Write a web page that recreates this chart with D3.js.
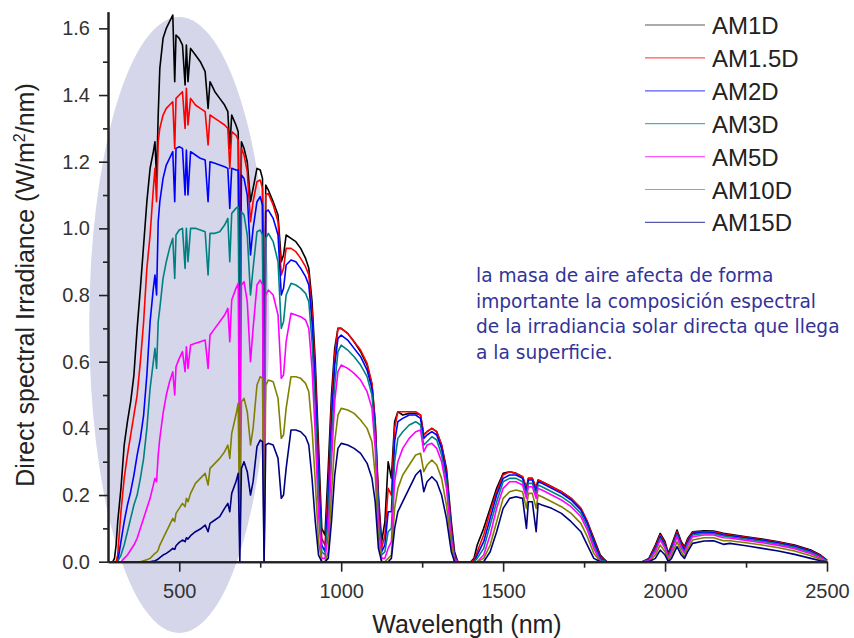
<!DOCTYPE html>
<html><head><meta charset="utf-8">
<script src="https://cdn.jsdelivr.net/npm/d3@7"></script>
<style>body{margin:0;background:#fff}svg{display:block}</style>
</head><body><svg id="c" width="854" height="638"></svg>
<script>
const wavelengths = [295,300,305,310,320,330,340,350,360,370,
 380,390,400,410,420,425,430,435,440,450,
 460,470,480,486,490,500,510,518,522,527,
 535,550,565,580,589,595,610,625,640,650,
 656,662,675,682,687,692,700,710,720,728,
 740,750,757,762,767,775,790,805,815,822,
 830,845,860,875,890,900,910,920,930,940,
 950,960,970,980,990,1000,1020,1040,1060,1080,
 1095,1105,1115,1125,1135,1145,1155,1165,1175,1190,
 1210,1230,1245,1255,1265,1280,1295,1310,1325,1340,
 1350,1360,1400,1410,1420,1440,1460,1480,1500,1520,
 1540,1560,1572,1578,1590,1602,1608,1620,1650,1680,
 1710,1740,1760,1780,1800,1820,1930,1950,1970,1985,
 2000,2010,2020,2037,2050,2060,2070,2085,2120,2150,
 2180,2200,2250,2300,2350,2400,2450,2480,2500];

const am1D = [0,0.01,0.05,0.12,0.22,0.35,0.42,0.48,0.56,0.70,
 0.82,0.95,1.08,1.18,1.23,1.26,1.15,1.34,1.48,1.57,
 1.60,1.62,1.64,1.44,1.58,1.57,1.55,1.43,1.55,1.44,
 1.54,1.52,1.50,1.47,1.36,1.44,1.41,1.39,1.37,1.35,
 1.24,1.34,1.31,1.29,0.85,1.26,1.24,1.20,1.08,1.12,
 1.18,1.175,1.15,0.30,1.13,1.115,1.08,1.04,0.90,0.92,
 0.98,0.97,0.96,0.94,0.91,0.88,0.78,0.60,0.35,0.10,
 0.08,0.28,0.50,0.64,0.70,0.70,0.685,0.66,0.63,0.59,
 0.53,0.42,0.20,0.06,0.12,0.30,0.25,0.42,0.45,0.44,
 0.445,0.445,0.44,0.38,0.39,0.40,0.39,0.35,0.28,0.12,
 0.03,0,0,0.01,0.05,0.10,0.16,0.22,0.265,0.27,
 0.265,0.255,0.22,0.25,0.25,0.22,0.245,0.24,0.225,0.21,
 0.19,0.16,0.12,0.07,0.02,0,0,0.01,0.05,0.085,
 0.06,0.025,0.05,0.095,0.06,0.045,0.07,0.09,0.093,0.092,
 0.085,0.082,0.075,0.068,0.06,0.05,0.035,0.02,0.005];

const am1p5D = [0,0,0,0.02,0.15,0.25,0.32,0.38,0.44,0.50,
 0.60,0.72,0.88,0.98,1.12,1.18,1.08,1.26,1.30,1.34,
 1.36,1.37,1.38,1.24,1.39,1.40,1.41,1.30,1.42,1.31,
 1.39,1.37,1.36,1.35,1.25,1.34,1.33,1.32,1.31,1.30,
 1.18,1.29,1.28,1.265,0.70,1.24,1.22,1.17,1.02,1.08,
 1.14,1.145,1.12,0.15,1.10,1.105,1.07,1.02,0.86,0.88,
 0.94,0.94,0.93,0.91,0.885,0.86,0.75,0.56,0.30,0.07,
 0.05,0.22,0.46,0.62,0.70,0.70,0.685,0.66,0.635,0.595,
 0.535,0.42,0.18,0.04,0.08,0.22,0.20,0.40,0.45,0.45,
 0.45,0.45,0.44,0.38,0.39,0.40,0.39,0.35,0.27,0.10,
 0.02,0,0,0.005,0.03,0.08,0.15,0.21,0.26,0.27,
 0.265,0.255,0.22,0.25,0.25,0.22,0.245,0.24,0.225,0.21,
 0.19,0.16,0.12,0.065,0.015,0,0,0.008,0.045,0.08,
 0.055,0.02,0.045,0.09,0.055,0.04,0.065,0.088,0.09,0.09,
 0.083,0.08,0.073,0.066,0.058,0.048,0.033,0.018,0.004];

const am2D = [0,0,0,0,0.06,0.12,0.17,0.21,0.26,0.32,
 0.37,0.44,0.56,0.72,0.82,0.86,0.80,1.02,1.08,1.15,
 1.19,1.21,1.23,1.08,1.24,1.245,1.24,1.10,1.235,1.10,
 1.23,1.22,1.21,1.205,1.08,1.20,1.195,1.19,1.185,1.18,
 1.06,1.18,1.175,1.175,0.55,1.16,1.15,1.10,0.92,1.00,
 1.08,1.095,1.07,0.08,1.05,1.055,1.03,0.98,0.80,0.82,
 0.89,0.905,0.90,0.88,0.855,0.83,0.72,0.52,0.26,0.05,
 0.03,0.18,0.42,0.59,0.67,0.68,0.665,0.64,0.615,0.575,
 0.52,0.40,0.16,0.03,0.05,0.15,0.15,0.36,0.42,0.43,
 0.44,0.44,0.43,0.37,0.38,0.39,0.38,0.34,0.26,0.09,
 0.015,0,0,0,0.02,0.06,0.13,0.20,0.25,0.26,
 0.26,0.25,0.21,0.245,0.245,0.21,0.24,0.235,0.22,0.205,
 0.185,0.155,0.115,0.06,0.01,0,0,0.006,0.04,0.075,
 0.05,0.018,0.04,0.085,0.05,0.035,0.06,0.085,0.088,0.087,
 0.08,0.078,0.071,0.064,0.056,0.046,0.031,0.016,0.003];

const am3D = [0,0,0,0,0.02,0.05,0.09,0.13,0.17,0.20,
 0.25,0.31,0.40,0.52,0.60,0.64,0.58,0.72,0.76,0.85,
 0.90,0.94,0.97,0.85,0.98,0.995,1.00,0.88,1.00,0.90,
 1.00,1.00,0.995,0.99,0.86,0.985,0.985,0.99,1.01,1.03,
 0.90,1.045,1.06,1.065,0.38,1.05,1.04,0.98,0.80,0.88,
 0.99,0.995,0.98,0.03,0.97,0.985,0.96,0.90,0.70,0.72,
 0.80,0.835,0.83,0.82,0.805,0.78,0.66,0.46,0.20,0.03,
 0.02,0.13,0.36,0.53,0.63,0.65,0.635,0.615,0.59,0.555,
 0.50,0.38,0.14,0.02,0.03,0.09,0.10,0.30,0.37,0.39,
 0.41,0.42,0.41,0.35,0.36,0.375,0.365,0.32,0.24,0.08,
 0.01,0,0,0,0.01,0.04,0.11,0.18,0.24,0.25,
 0.25,0.24,0.20,0.235,0.235,0.20,0.23,0.225,0.21,0.195,
 0.175,0.145,0.105,0.05,0.005,0,0,0.004,0.035,0.07,
 0.045,0.015,0.035,0.08,0.045,0.03,0.055,0.08,0.085,0.084,
 0.077,0.075,0.068,0.061,0.053,0.043,0.028,0.014,0.002];

const am5D = [0,0,0,0,0,0.01,0.02,0.035,0.05,0.07,
 0.10,0.13,0.16,0.19,0.23,0.25,0.24,0.32,0.37,0.445,
 0.50,0.54,0.57,0.50,0.585,0.61,0.63,0.57,0.645,0.58,
 0.65,0.655,0.66,0.665,0.58,0.68,0.70,0.72,0.74,0.76,
 0.66,0.785,0.82,0.835,0.20,0.83,0.84,0.78,0.60,0.70,
 0.83,0.845,0.83,0,0.80,0.815,0.80,0.74,0.55,0.56,
 0.66,0.745,0.74,0.735,0.725,0.70,0.58,0.38,0.14,0.01,
 0.01,0.08,0.30,0.48,0.57,0.59,0.58,0.565,0.545,0.51,
 0.46,0.34,0.11,0.01,0.01,0.04,0.06,0.24,0.30,0.34,
 0.37,0.39,0.395,0.33,0.35,0.355,0.34,0.30,0.22,0.07,
 0.005,0,0,0,0,0.02,0.08,0.16,0.22,0.24,
 0.24,0.23,0.19,0.225,0.225,0.19,0.22,0.215,0.20,0.185,
 0.165,0.135,0.095,0.04,0,0,0,0.002,0.03,0.065,
 0.04,0.01,0.03,0.075,0.04,0.025,0.05,0.075,0.08,0.08,
 0.072,0.071,0.064,0.057,0.049,0.039,0.024,0.011,0.001];

const am10D = [0,0,0,0,0,0,0,0,0,0,
 0,0.003,0.006,0.01,0.02,0.025,0.028,0.035,0.05,0.07,
 0.09,0.11,0.13,0.12,0.145,0.16,0.175,0.165,0.19,0.18,
 0.205,0.235,0.25,0.265,0.23,0.28,0.295,0.31,0.33,0.35,
 0.31,0.385,0.44,0.475,0.05,0.48,0.49,0.45,0.35,0.40,
 0.53,0.555,0.55,0,0.53,0.545,0.54,0.49,0.37,0.38,
 0.46,0.555,0.555,0.55,0.535,0.51,0.40,0.24,0.06,0,
 0,0.03,0.20,0.36,0.44,0.46,0.455,0.445,0.425,0.40,
 0.36,0.26,0.07,0,0,0.01,0.02,0.16,0.22,0.26,
 0.29,0.32,0.325,0.27,0.29,0.305,0.29,0.25,0.17,0.05,
 0,0,0,0,0,0.01,0.05,0.12,0.19,0.21,
 0.215,0.21,0.16,0.205,0.205,0.16,0.20,0.195,0.18,0.165,
 0.145,0.115,0.075,0.025,0,0,0,0,0.02,0.05,
 0.03,0.005,0.02,0.06,0.03,0.015,0.04,0.065,0.072,0.072,
 0.063,0.063,0.057,0.05,0.042,0.032,0.018,0.007,0];

const am15D = [0,0,0,0,0,0,0,0,0,0,
 0,0,0,0,0.002,0.003,0.005,0.008,0.012,0.02,
 0.025,0.032,0.04,0.037,0.048,0.058,0.065,0.06,0.072,0.068,
 0.078,0.09,0.098,0.11,0.09,0.115,0.125,0.135,0.16,0.175,
 0.15,0.205,0.24,0.265,0,0.28,0.30,0.27,0.20,0.24,
 0.345,0.365,0.36,0,0.35,0.355,0.35,0.31,0.19,0.20,
 0.28,0.395,0.395,0.39,0.375,0.35,0.25,0.12,0.02,0,
 0,0.01,0.12,0.26,0.34,0.355,0.35,0.34,0.325,0.295,
 0.25,0.18,0.04,0,0,0,0.01,0.10,0.15,0.18,
 0.22,0.26,0.275,0.21,0.24,0.255,0.24,0.20,0.13,0.03,
 0,0,0,0,0,0,0.03,0.09,0.16,0.19,
 0.195,0.19,0.10,0.18,0.18,0.09,0.175,0.17,0.16,0.145,
 0.12,0.09,0.05,0.01,0,0,0,0,0.01,0.035,
 0.02,0,0.01,0.045,0.02,0.01,0.03,0.055,0.062,0.063,
 0.052,0.055,0.048,0.04,0.032,0.022,0.01,0.003,0];

const seriesNames = ["AM1D","AM1.5D","AM2D","AM3D","AM5D","AM10D","AM15D"];
const seriesValues = [am1D, am1p5D, am2D, am3D, am5D, am10D, am15D];
const seriesColors = ["#000000","#ff0000","#0000ff","#008080","#ff00ff","#808000","#000080"];

const xTicks = [500,1000,1500,2000,2500];
const xMinorTicks = [750,1250,1750,2250];
const yTicks = [0,0.2,0.4,0.6,0.8,1.0,1.2,1.4,1.6];
const yMinorTicks = [0.1,0.3,0.5,0.7,0.9,1.1,1.3,1.5];
const xTitle = "Wavelength (nm)";
const noteLines = ["la masa de aire afecta de forma",
  "importante la composición espectral",
  "de la irradiancia solar directa que llega",
  "a la superficie."];
// highlighted region (data units): centre wavelength, centre irradiance, half-width nm, half-height
const highlight = {wl: 500, v: 0.71, rwl: 278, rv: 0.924};

seriesValues.forEach((s,i)=>{ if (s.length !== wavelengths.length) throw new Error(seriesNames[i]+" length "+s.length); });

const svg = d3.select("#c");
const x = d3.scaleLinear().domain([280, 2500]).range([108, 827]);
const y = d3.scaleLinear().domain([0, 1.65]).range([561.7, 11.7]);
const font = "'Liberation Sans', Arial, sans-serif";

svg.append("rect").attr("width",854).attr("height",638).attr("fill","#fff");

// highlight ellipse
svg.append("ellipse")
  .attr("cx", x(highlight.wl)).attr("cy", y(highlight.v))
  .attr("rx", x(highlight.wl + highlight.rwl) - x(highlight.wl))
  .attr("ry", y(0) - y(highlight.rv))
  .attr("fill", "#d5d6ea");

// series
const line = d3.line().x((d,i)=>x(wavelengths[i])).y(d=>y(d));
seriesValues.forEach((s,i)=>{
  svg.append("path").datum(s).attr("d", line)
    .attr("fill","none").attr("stroke", seriesColors[i])
    .attr("stroke-width", 1.6).attr("stroke-linejoin","round");
});

// axes
function styleAxis(g){
  g.select(".domain").attr("stroke","#222").attr("stroke-width",2);
  g.selectAll(".tick line").attr("stroke","#222").attr("stroke-width",1.6);
  g.selectAll(".tick text").attr("fill","#333").attr("font-family",font).attr("font-size",20);
}
const yAxis = svg.append("g").attr("transform","translate(108,0)")
  .call(d3.axisLeft(y).tickValues(yTicks).tickFormat(d3.format(".1f")).tickSize(9).tickSizeOuter(0).tickPadding(9));
styleAxis(yAxis);
const yMinor = svg.append("g").attr("transform","translate(108,0)")
  .call(d3.axisLeft(y).tickValues(yMinorTicks).tickFormat("").tickSize(5).tickSizeOuter(0));
styleAxis(yMinor);
const xAxis = svg.append("g").attr("transform","translate(0,561.7)")
  .call(d3.axisBottom(x).tickValues(xTicks).tickFormat(d3.format("d")).tickSize(10).tickSizeOuter(0).tickPadding(12));
styleAxis(xAxis);
const xMinor = svg.append("g").attr("transform","translate(0,561.7)")
  .call(d3.axisBottom(x).tickValues(xMinorTicks).tickFormat("").tickSize(6).tickSizeOuter(0));
styleAxis(xMinor);

// axis titles
svg.append("text").attr("x", 467).attr("y", 633).attr("text-anchor","middle")
  .attr("font-family",font).attr("font-size",25).attr("fill","#222").text(xTitle);
const yt = svg.append("text").attr("transform","translate(34,285) rotate(-90)")
  .attr("text-anchor","middle").attr("font-family",font).attr("font-size",25).attr("fill","#222");
yt.append("tspan").text("Direct spectral Irradiance (W/m");
yt.append("tspan").attr("dy",-9).attr("font-size",16).text("2");
yt.append("tspan").attr("dy",9).text("/nm)");

// legend
const leg = svg.append("g");
seriesNames.forEach((n,i)=>{
  const cy = 25 + i*32.9;
  leg.append("line").attr("x1",645).attr("x2",705).attr("y1",cy).attr("y2",cy)
    .attr("stroke",seriesColors[i]).attr("stroke-width",1.2).attr("opacity",0.65);
  leg.append("text").attr("x",712).attr("y",cy+9).attr("font-family",font)
    .attr("font-size",24).attr("fill","#222").text(n);
});

// note
noteLines.forEach((t,i)=>{
  svg.append("text").attr("x",476).attr("y",282 + i*25.5)
    .attr("font-family","'DejaVu Sans', Verdana, sans-serif").attr("font-size",18.6)
    .attr("fill","#33339a").text(t);
});
</script></body></html>
